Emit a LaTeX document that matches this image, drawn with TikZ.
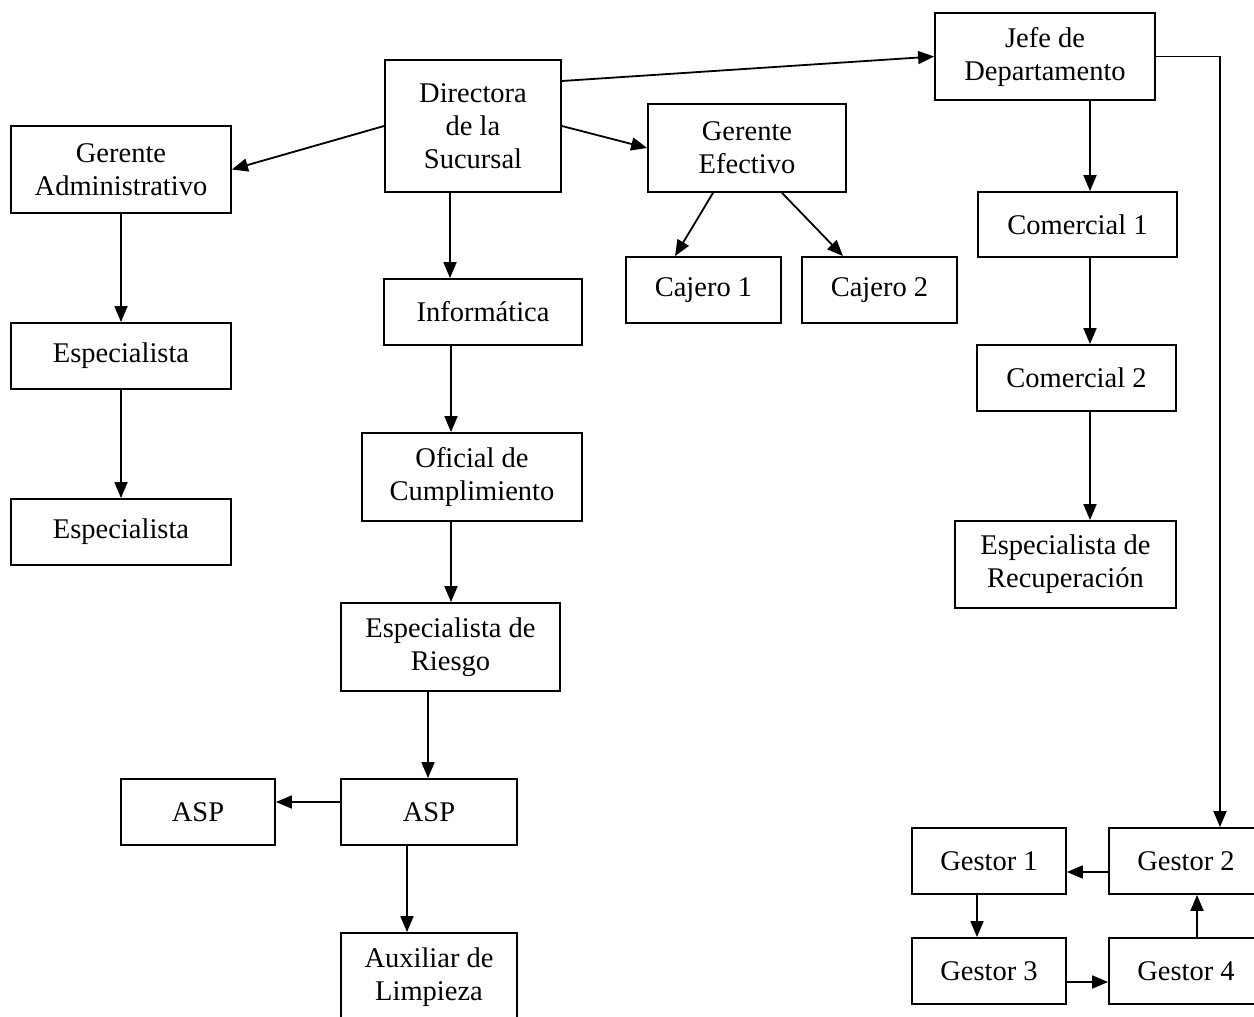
\documentclass[tikz,border=0pt]{standalone}
\usepackage{fontspec}
\setmainfont{Liberation Serif}
\usetikzlibrary{arrows.meta}
\begin{document}
\begin{tikzpicture}[x=1pt,y=-1pt,
  box/.style={draw,line width=1.8pt,inner sep=0pt,align=center,
    font=\fontsize{28.5}{33}\selectfont},
  conn/.style={line width=1.8pt,-{Triangle[length=16pt,width=13pt]}}]
\useasboundingbox (0,0) rectangle (1254,1017);
% nodes
\node[box,minimum width=176pt,minimum height=132pt] (dir) at (473,126) {Directora\\de la\\Sucursal};
\node[box,minimum width=220pt,minimum height=87pt] (jefe) at (1045,56.5) {Jefe de\\Departamento};
\node[box,minimum width=220pt,minimum height=87pt] (ga) at (121,169.5) {Gerente\\Administrativo};
\node[box,minimum width=198pt,minimum height=88pt] (ge) at (747,148) {Gerente\\Efectivo};
\node[box,minimum width=155pt,minimum height=66pt] (caj1) at (703.5,290) {Cajero 1};
\node[box,minimum width=155pt,minimum height=66pt] (caj2) at (879.5,290) {Cajero 2};
\node[box,minimum width=198pt,minimum height=66pt] (info) at (483,312) {Informática};
\node[box,minimum width=220pt,minimum height=66pt] (esp1) at (121,356) {Especialista};
\node[box,minimum width=220pt,minimum height=66pt] (esp2) at (121,532) {Especialista};
\node[box,minimum width=199pt,minimum height=65pt] (com1) at (1077.5,224.5) {Comercial 1};
\node[box,minimum width=199pt,minimum height=66pt] (com2) at (1076.5,378) {Comercial 2};
\node[box,minimum width=221pt,minimum height=87pt] (rec) at (1065.5,564.5) {Especialista de\\Recuperación};
\node[box,minimum width=220pt,minimum height=88pt] (ofi) at (472,477) {Oficial de\\Cumplimiento};
\node[box,minimum width=219pt,minimum height=88pt] (rie) at (450.5,647) {Especialista de\\Riesgo};
\node[box,minimum width=154pt,minimum height=66pt] (asp1) at (198,812) {ASP};
\node[box,minimum width=176pt,minimum height=66pt] (asp2) at (429,812) {ASP};
\node[box,minimum width=176pt,minimum height=88pt] (aux) at (429,977) {Auxiliar de\\Limpieza};
\node[box,minimum width=154pt,minimum height=66pt] (g1) at (989,861) {Gestor 1};
\node[box,minimum width=154pt,minimum height=66pt] (g2) at (1186,861) {Gestor 2};
\node[box,minimum width=154pt,minimum height=66pt] (g3) at (989,971) {Gestor 3};
\node[box,minimum width=154pt,minimum height=66pt] (g4) at (1186,971) {Gestor 4};
% connectors
\draw[conn] (dir.west) -- (ga.east);
\draw[conn] (dir.east) -- (ge.west);
\draw[conn] ([yshift=45pt]dir.east) -- (jefe.west);
\draw[conn] ([xshift=-23pt]dir.south) -- ([xshift=-23pt]dir.south |- info.north);
\draw[conn] ([xshift=-34pt]ge.south) -- ([xshift=-28.5pt]caj1.north);
\draw[conn] ([xshift=35pt]ge.south) -- ([xshift=-36.5pt]caj2.north);
\draw[conn] ([xshift=45pt]jefe.south) -- ([xshift=45pt]jefe.south |- com1.north);
\draw[conn] (jefe.east) -| ([xshift=34pt]g2.north);
\draw[conn] ([xshift=12.5pt]com1.south) -- ([xshift=12.5pt]com1.south |- com2.north);
\draw[conn] ([xshift=13.5pt]com2.south) -- ([xshift=13.5pt]com2.south |- rec.north);
\draw[conn] (ga.south) -- (esp1.north);
\draw[conn] (esp1.south) -- (esp2.north);
\draw[conn] ([xshift=-32pt]info.south) -- ([xshift=-32pt]info.south |- ofi.north);
\draw[conn] ([xshift=-21pt]ofi.south) -- ([xshift=-21pt]ofi.south |- rie.north);
\draw[conn] ([xshift=-22.5pt]rie.south) -- ([xshift=-22.5pt]rie.south |- asp2.north);
\draw[conn] ([yshift=10pt]asp2.west) -- ([yshift=10pt]asp2.west -| asp1.east);
\draw[conn] ([xshift=-22pt]asp2.south) -- ([xshift=-22pt]asp2.south |- aux.north);
\draw[conn] ([yshift=-11pt]g2.west) -- ([yshift=-11pt]g2.west -| g1.east);
\draw[conn] ([xshift=-12pt]g1.south) -- ([xshift=-12pt]g1.south |- g3.north);
\draw[conn] ([yshift=-11pt]g3.east) -- ([yshift=-11pt]g3.east -| g4.west);
\draw[conn] ([xshift=11pt]g4.north) -- ([xshift=11pt]g4.north |- g2.south);
\end{tikzpicture}
\end{document}
